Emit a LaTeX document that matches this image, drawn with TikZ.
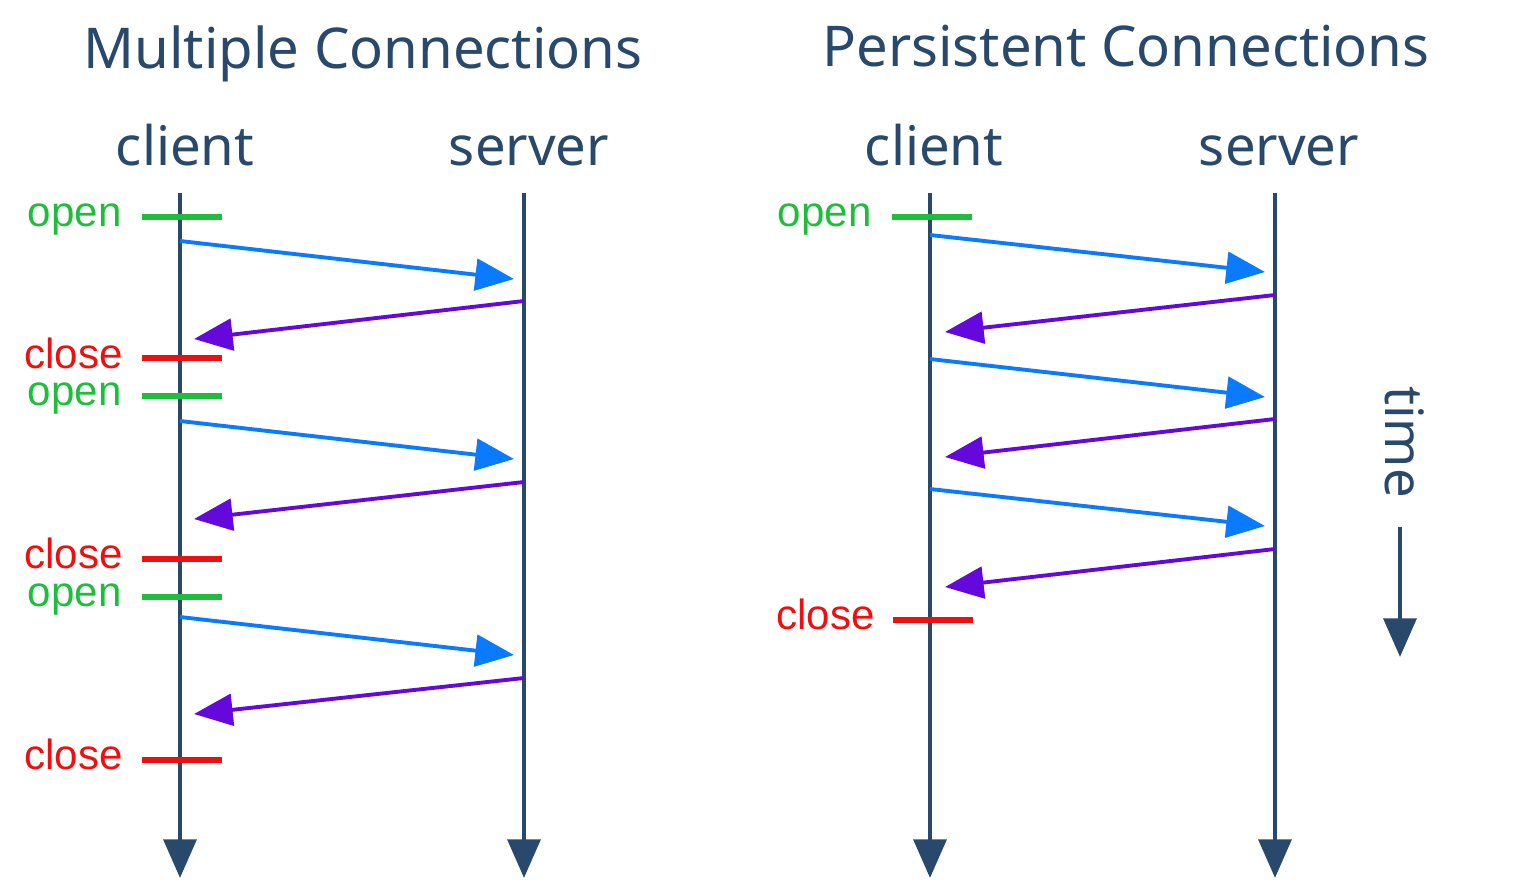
\documentclass[tikz,border=0pt]{standalone}
\usepackage{fontspec}
\setmainfont{Noto Sans}
\newfontfamily\lblfont{Liberation Sans}
\usetikzlibrary{arrows.meta}
\definecolor{navy}{HTML}{28496B}
\definecolor{reqblue}{HTML}{0A7AFF}
\definecolor{resppurple}{HTML}{6408DC}
\definecolor{opengreen}{HTML}{1EBE3C}
\definecolor{closered}{HTML}{EE1010}

\begin{document}
\begin{tikzpicture}[x=0.02cm, y=-0.02cm,
    title/.style={font=\fontsize{31pt}{36pt}\selectfont, text=navy, anchor=base},
    heading/.style={title, font=\fontsize{32pt}{36pt}\selectfont},
    lifeline/.style={draw=navy, line width=2.8pt, -{Triangle[length=22pt,width=18.5pt]}},
    req/.style={draw=reqblue, line width=2.2pt, -{Triangle[length=22pt,width=18pt]}},
    resp/.style={draw=resppurple, line width=2.2pt, -{Triangle[length=22pt,width=18pt]}},
    openlbl/.style={font=\lblfont\fontsize{24pt}{28pt}\selectfont, text=opengreen, anchor=base east, inner sep=0pt, text height=0.55em, text depth=0.2em},
    closelbl/.style={font=\lblfont\fontsize{24pt}{28pt}\selectfont, text=closered, anchor=base east, inner sep=0pt, text height=0.73em, text depth=0pt},
    opentick/.style={draw=opengreen, line width=3.4pt},
    closetick/.style={draw=closered, line width=3.4pt}]
  \useasboundingbox (0,0) rectangle (1519,889);

  % titles
  \node[heading] (multi) at (363,68) {Multiple Connections};
  \node[heading] (persist) at (1126,66) {Persistent Connections};
  \node[title] (client1) at (185,165) {client};
  \node[title] (server1) at (529,165) {server};
  \node[title] (client2) at (934,165) {client};
  \node[title] (server2) at (1279,165) {server};

  % lifelines
  \coordinate (c1top) at (180,193);
  \coordinate (c1bot) at (180,878);
  \coordinate (s1top) at (524,193);
  \coordinate (s1bot) at (524,878);
  \coordinate (c2top) at (930,193);
  \coordinate (c2bot) at (930,878);
  \coordinate (s2top) at (1275,193);
  \coordinate (s2bot) at (1275,878);
  \draw[lifeline] (c1top) -- (c1bot);
  \draw[lifeline] (s1top) -- (s1bot);
  \draw[lifeline] (c2top) -- (c2bot);
  \draw[lifeline] (s2top) -- (s2bot);

  % multiple connections: open / close marks
  \node[openlbl] (open1) at (122,226) {open};
  \coordinate (o1a) at (142,217); \coordinate (o1b) at (222,217);
  \draw[opentick] (o1a) -- (o1b);
  \node[closelbl] (close1) at (123,368) {close};
  \coordinate (x1a) at (142,358); \coordinate (x1b) at (222,358);
  \draw[closetick] (x1a) -- (x1b);
  \node[openlbl] (open2) at (122,405) {open};
  \coordinate (o2a) at (142,396); \coordinate (o2b) at (222,396);
  \draw[opentick] (o2a) -- (o2b);
  \node[closelbl] (close2) at (123,568) {close};
  \coordinate (x2a) at (142,559); \coordinate (x2b) at (222,559);
  \draw[closetick] (x2a) -- (x2b);
  \node[openlbl] (open3) at (122,606) {open};
  \coordinate (o3a) at (142,597); \coordinate (o3b) at (222,597);
  \draw[opentick] (o3a) -- (o3b);
  \node[closelbl] (close3) at (123,769) {close};
  \coordinate (x3a) at (142,760); \coordinate (x3b) at (222,760);
  \draw[closetick] (x3a) -- (x3b);

  % multiple connections: messages
  \coordinate (r1a) at (180,241); \coordinate (r1b) at (514,279);
  \draw[req] (r1a) -- (r1b);
  \coordinate (p1a) at (524,301); \coordinate (p1b) at (194,339);
  \draw[resp] (p1a) -- (p1b);
  \coordinate (r2a) at (180,421); \coordinate (r2b) at (514,459);
  \draw[req] (r2a) -- (r2b);
  \coordinate (p2a) at (524,482); \coordinate (p2b) at (194,519);
  \draw[resp] (p2a) -- (p2b);
  \coordinate (r3a) at (180,617); \coordinate (r3b) at (514,655);
  \draw[req] (r3a) -- (r3b);
  \coordinate (p3a) at (524,678); \coordinate (p3b) at (194,714);
  \draw[resp] (p3a) -- (p3b);

  % persistent connections
  \node[openlbl] (open4) at (872,226) {open};
  \coordinate (o4a) at (892,217); \coordinate (o4b) at (972,217);
  \draw[opentick] (o4a) -- (o4b);
  \node[closelbl] (close4) at (875,629) {close};
  \coordinate (x4a) at (893,620); \coordinate (x4b) at (973,620);
  \draw[closetick] (x4a) -- (x4b);

  \coordinate (r4a) at (930,235); \coordinate (r4b) at (1265,272);
  \draw[req] (r4a) -- (r4b);
  \coordinate (p4a) at (1275,295); \coordinate (p4b) at (945,332);
  \draw[resp] (p4a) -- (p4b);
  \coordinate (r5a) at (930,359); \coordinate (r5b) at (1265,397);
  \draw[req] (r5a) -- (r5b);
  \coordinate (p5a) at (1275,419); \coordinate (p5b) at (945,457);
  \draw[resp] (p5a) -- (p5b);
  \coordinate (r6a) at (930,489); \coordinate (r6b) at (1265,526);
  \draw[req] (r6a) -- (r6b);
  \coordinate (p6a) at (1275,549); \coordinate (p6b) at (945,587);
  \draw[resp] (p6a) -- (p6b);

  % time
  \node[title, rotate=-90, font=\fontsize{30pt}{34pt}\selectfont] (time) at (1385,442) {time};
  \coordinate (ttop) at (1400,527);
  \coordinate (tbot) at (1400,657);
  \draw[lifeline] (ttop) -- (tbot);
\end{tikzpicture}
\end{document}
